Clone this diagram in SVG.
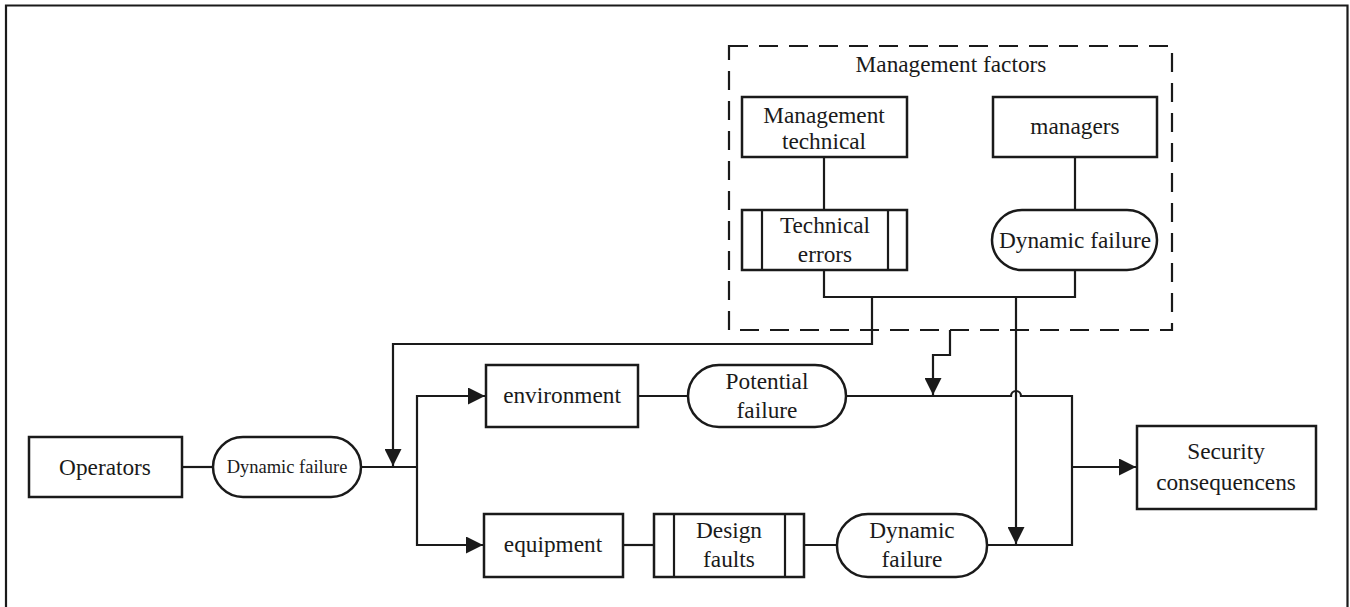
<svg xmlns="http://www.w3.org/2000/svg" width="1350" height="607" viewBox="0 0 1350 607">
<defs>
<style>
.box{fill:#fff;stroke:#1a1a1a;stroke-width:2.5}
.ln{fill:none;stroke:#1a1a1a;stroke-width:2.2}
.dash{fill:none;stroke:#1a1a1a;stroke-width:2.2;stroke-dasharray:19 11}
text{font-family:"Liberation Serif","Times New Roman",serif;font-size:23.3px;fill:#1a1a1a;text-anchor:middle}
.sm{font-size:18.5px}
</style>
<marker id="arr" viewBox="0 0 10 10" refX="10" refY="5" markerWidth="17" markerHeight="17" markerUnits="userSpaceOnUse" orient="auto">
<path d="M0,0 L10,5 L0,10 Z" fill="#1a1a1a"/>
</marker>
</defs>
<rect width="1350" height="607" fill="#fff"/>
<path class="ln" d="M6,610 V5.5 H1347.5 V610" stroke-width="2"/>

<g id="mgmt-group">
<rect class="dash" x="729" y="46" width="443" height="284"/>
<text x="951" y="72">Management factors</text>
</g>

<g id="connectors">
<line class="ln" x1="824" y1="157" x2="824" y2="210"/>
<line class="ln" x1="1075" y1="157" x2="1075" y2="210"/>
<path class="ln" d="M824,270 V297 H1075 V270"/>
<path class="ln" d="M872,297 V344 H393 V466" marker-end="url(#arr)"/>
<path class="ln" d="M182,467 H213"/>
<path class="ln" d="M361,467 H417"/>
<path class="ln" d="M417,467 V396 H485" marker-end="url(#arr)"/>
<path class="ln" d="M417,467 V545 H483" marker-end="url(#arr)"/>
<path class="ln" d="M638,396 H688"/>
<path class="ln" d="M846,396 H1011 A5,5 0 0 1 1021,396 H1072 V545 H987"/>
<path class="ln" d="M950,330 V355 H933 V395" marker-end="url(#arr)"/>
<path class="ln" d="M1016,297 V544" marker-end="url(#arr)"/>
<path class="ln" d="M1072,467 H1136" marker-end="url(#arr)"/>
<path class="ln" d="M623,545 H654"/>
<path class="ln" d="M804,545 H837"/>
</g>

<g id="mgmt-technical">
<rect class="box" x="742" y="97" width="165" height="60"/>
<text x="824" y="123">Management</text>
<text x="824" y="149">technical</text>
</g>
<g id="managers">
<rect class="box" x="993" y="97" width="164" height="60"/>
<text x="1075" y="134">managers</text>
</g>
<g id="technical-errors">
<rect class="box" x="742" y="210" width="165" height="60"/>
<line class="ln" x1="762" y1="210" x2="762" y2="270"/>
<line class="ln" x1="888" y1="210" x2="888" y2="270"/>
<text x="825" y="233">Technical</text>
<text x="825" y="262">errors</text>
</g>
<g id="mgr-dynamic-failure">
<rect class="box" x="992" y="210" width="165" height="60" rx="30" ry="30"/>
<text x="1075" y="248">Dynamic failure</text>
</g>

<g id="operators">
<rect class="box" x="29" y="437" width="153" height="60"/>
<text x="105" y="475">Operators</text>
</g>
<g id="op-dynamic-failure">
<rect class="box" x="213" y="437" width="148" height="60" rx="30" ry="30"/>
<text class="sm" x="287" y="473">Dynamic failure</text>
</g>

<g id="environment">
<rect class="box" x="486" y="365" width="152" height="62"/>
<text x="562" y="403">environment</text>
</g>
<g id="potential-failure">
<rect class="box" x="688" y="365" width="158" height="62" rx="31" ry="31"/>
<text x="767" y="389">Potential</text>
<text x="767" y="418">failure</text>
</g>

<g id="equipment">
<rect class="box" x="484" y="514" width="139" height="63"/>
<text x="553" y="552">equipment</text>
</g>
<g id="design-faults">
<rect class="box" x="654" y="514" width="150" height="63"/>
<line class="ln" x1="674" y1="514" x2="674" y2="577"/>
<line class="ln" x1="785" y1="514" x2="785" y2="577"/>
<text x="729" y="538">Design</text>
<text x="729" y="567">faults</text>
</g>
<g id="equip-dynamic-failure">
<rect class="box" x="837" y="514" width="150" height="63" rx="31" ry="31"/>
<text x="912" y="538">Dynamic</text>
<text x="912" y="567">failure</text>
</g>

<g id="security-consequences">
<rect class="box" x="1137" y="426" width="179" height="83"/>
<text x="1226" y="459">Security</text>
<text x="1226" y="490">consequencens</text>
</g>
</svg>
